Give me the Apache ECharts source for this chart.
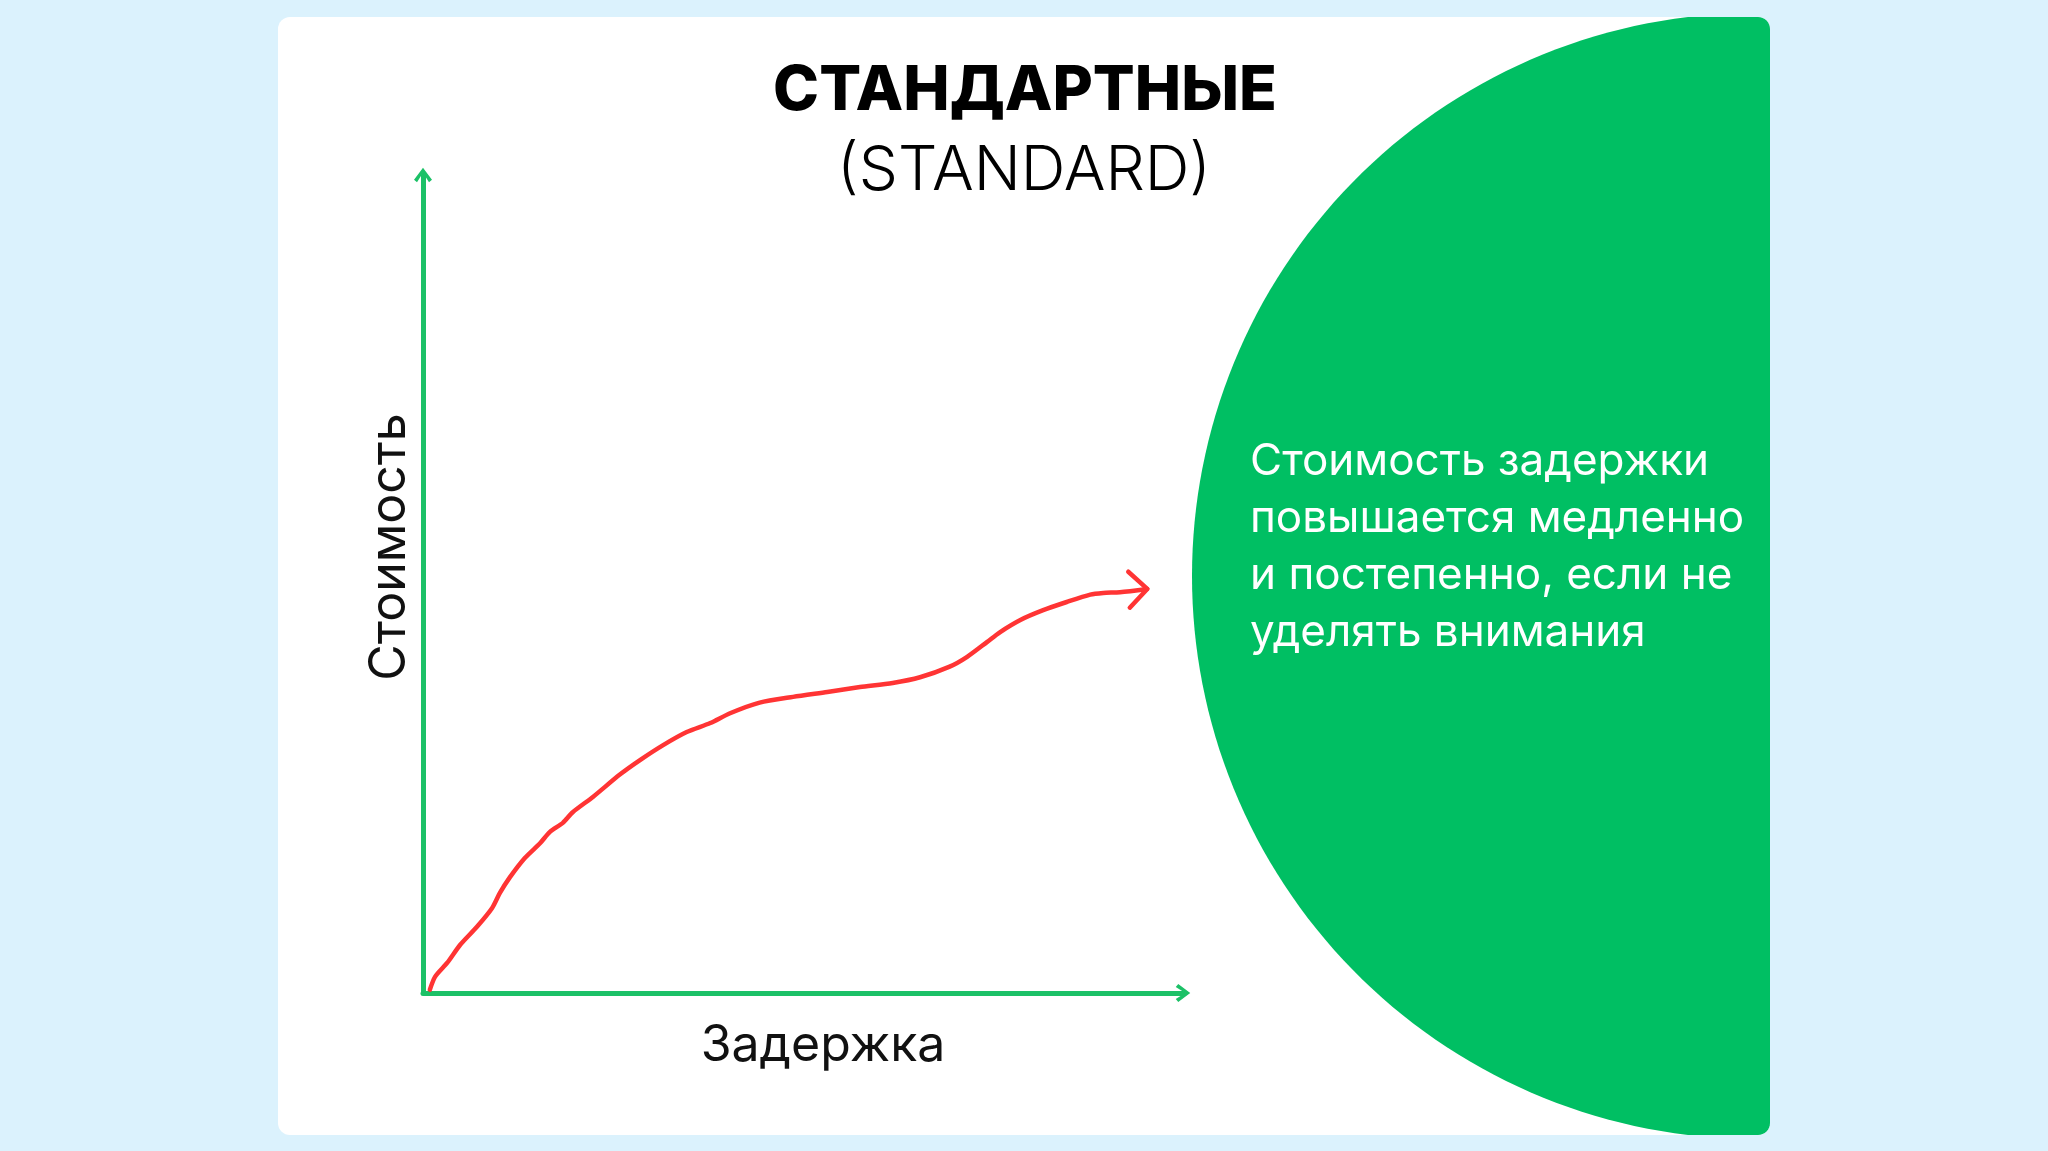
<!DOCTYPE html>
<html>
<head>
<meta charset="utf-8">
<title>Стандартные</title>
<script src="https://cdn.jsdelivr.net/npm/echarts@6/dist/echarts.min.js"></script>
<style>
    html, body { margin: 0; padding: 0; background: #dbf2fd; }
    #main { width: 2048px; height: 1151px; }
</style>
</head>
<body>
<div id="main"></div>
<script>
// кривая стоимости задержки (условные единицы 0..100)
var delayValues = [0.9, 1.6, 3.2, 4.9, 7.1, 9.1, 10.1, 11.4, 13.4, 15.4, 16.7, 18.4, 19.7, 22.4,
                   25.9, 28.6, 31.6, 34.7, 37.8, 40.4, 44.3, 48.7, 53.2, 57.5, 61.8, 65.4,
                   69.3, 71.6, 74.2, 75.9, 78.6, 81.6, 84.7, 87.8, 89.5, 91.7, 95.3];
var costValues  = [0.4, 2.0, 3.7, 5.9, 8.1, 10.4, 12.2, 14.1, 16.5, 18.3, 19.7, 20.8, 22.1, 24.0,
                   26.7, 28.5, 30.3, 31.9, 33.0, 34.2, 35.5, 36.2, 36.8, 37.4, 37.9, 38.6,
                   39.9, 41.1, 42.9, 44.1, 45.6, 46.8, 47.8, 48.7, 48.9, 49.0, 49.4];
// наконечник стрелки на конце кривой
var headDelay = [92.8, 95.3, 93.0];
var headCost  = [51.5, 49.4, 47.1];

var titleText = 'СТАНДАРТНЫЕ';
var subtitleText = '(STANDARD)';
var xName = 'Задержка';
var yName = 'Стоимость';
var noteLines = ['Стоимость задержки', 'повышается медленно', 'и постепенно, если не', 'уделять внимания'];

var green = '#00bf63';
var axisGreen = '#1cc167';
var red = '#ff3434';
var font = 'Inter, "Noto Sans", sans-serif';
var chevron = 'path://M9,0 L18,12 L15,14.5 L9,5 L3,14.5 L0,12 Z';

var curve = [];
for (var i = 0; i < delayValues.length; i++) {
    curve.push([delayValues[i], costValues[i]]);
}
var head = [];
for (var j = 0; j < headDelay.length; j++) {
    head.push([headDelay[j], headCost[j]]);
}

// зелёный полукруг, обрезанный по карточке (многоугольник)
var card = {x: 278, y: 17, w: 1492, h: 1118, r: 12};
var circ = {cx: 1755, cy: 576, r: 563};
var right = card.x + card.w, bottom = card.y + card.h;
var aTop = Math.asin((card.y - circ.cy) / circ.r);
var aBot = Math.asin((bottom - circ.cy) / circ.r);
var greenPts = [];
function corner(cx, cy, a0, a1) {
    for (var k = 0; k <= 8; k++) {
        var a = a0 + (a1 - a0) * k / 8;
        greenPts.push([cx + card.r * Math.cos(a), cy + card.r * Math.sin(a)]);
    }
}
corner(right - card.r, card.y + card.r, -Math.PI / 2, 0);
corner(right - card.r, bottom - card.r, 0, Math.PI / 2);
// дуга снизу через левую точку наверх
var a0 = Math.PI - aBot, a1 = Math.PI - aTop;
for (var k = 0; k <= 120; k++) {
    var a = a0 + (a1 - a0) * k / 120;
    greenPts.push([circ.cx + circ.r * Math.cos(a), circ.cy + circ.r * Math.sin(a)]);
}

var chart = echarts.init(document.getElementById('main'));

var option = {
    animation: false,
    backgroundColor: '#dbf2fd',
    graphic: [
        {
            type: 'rect', z: -10, silent: true,
            shape: {x: card.x, y: card.y, width: card.w, height: card.h, r: card.r},
            style: {fill: '#ffffff'}
        },
        {
            type: 'polygon', z: -9, silent: true,
            shape: {points: greenPts},
            style: {fill: green}
        },
        {
            type: 'text', x: 1025, y: 91, silent: true,
            style: {text: titleText, fontSize: 62, fontWeight: 800, fontFamily: font,
                    fill: '#000000', align: 'center', verticalAlign: 'middle'}
        },
        {
            type: 'text', x: 1024, y: 171, silent: true,
            style: {text: subtitleText, fontSize: 62, fontWeight: 300, fontFamily: font,
                    fill: '#000000', align: 'center', verticalAlign: 'middle'}
        },
        {
            type: 'text', x: 1250, y: 547, silent: true,
            style: {text: noteLines.join('\n'), fontSize: 44, lineHeight: 57, fontWeight: 400,
                    fontFamily: font, fill: '#ffffff', align: 'left', verticalAlign: 'middle'}
        }
    ],
    grid: {left: 423, top: 175, width: 760, height: 818, containLabel: false},
    xAxis: {
        type: 'value', min: 0, max: 100,
        name: xName, nameLocation: 'middle', nameGap: 28,
        nameTextStyle: {fontSize: 50, fontFamily: font, color: '#111111', padding: [0, 0, 0, 40]},
        axisLine: {
            show: true, symbol: ['none', chevron], symbolSize: [18, 15],
            lineStyle: {color: axisGreen, width: 5}
        },
        axisTick: {show: false},
        axisLabel: {show: false},
        splitLine: {show: false}
    },
    yAxis: {
        type: 'value', min: 0, max: 100,
        name: yName, nameLocation: 'middle', nameGap: 8,
        nameTextStyle: {fontSize: 50, fontFamily: font, color: '#111111', padding: [0, 0, 0, 74]},
        axisLine: {
            show: true, symbol: ['none', chevron], symbolSize: [18, 15],
            lineStyle: {color: axisGreen, width: 5}
        },
        axisTick: {show: false},
        axisLabel: {show: false},
        splitLine: {show: false}
    },
    series: [
        {
            name: 'cost', type: 'line', data: curve,
            smooth: 0.25, showSymbol: false, silent: true,
            lineStyle: {color: red, width: 4.5, cap: 'round', join: 'round'}
        },
        {
            name: 'head', type: 'line', data: head,
            showSymbol: false, silent: true,
            lineStyle: {color: red, width: 4.5, cap: 'round', join: 'round'}
        }
    ]
};
chart.setOption(option);
</script>
</body>
</html>
